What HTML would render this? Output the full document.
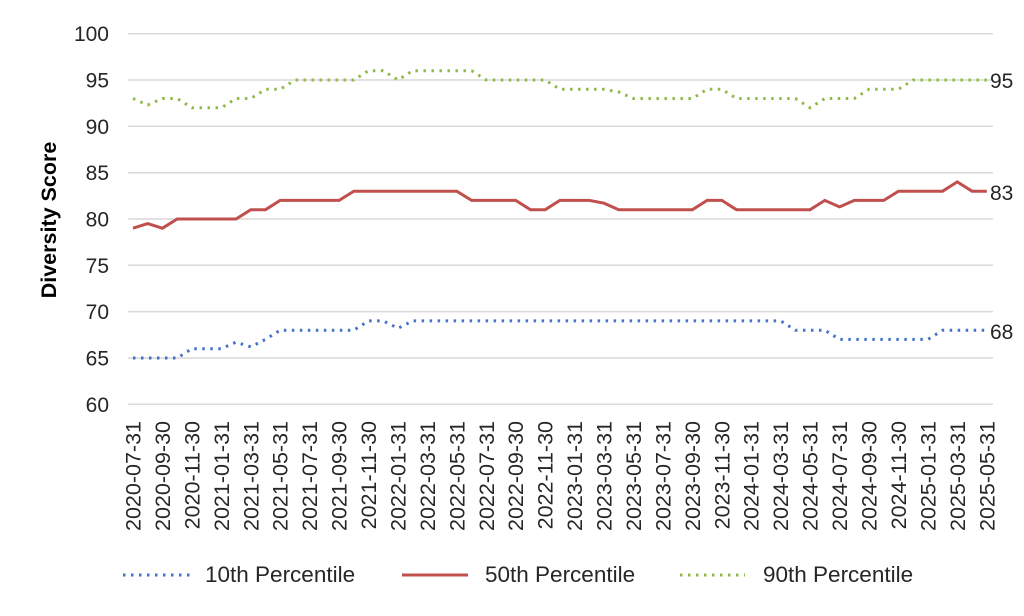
<!DOCTYPE html>
<html><head><meta charset="utf-8"><style>
body{margin:0;background:#fff}
svg{display:block;font-family:"Liberation Sans",Arial,sans-serif}
</style></head><body>
<svg id="c" width="1024" height="616" xmlns="http://www.w3.org/2000/svg"></svg>
<script>
const red=[79,79.5,79,80,80,80,80,80,81,81,82,82,82,82,82,83,83,83,83,83,83,83,83,82,82,82,82,81,81,82,82,82,81.7,81,81,81,81,81,81,82,82,81,81,81,81,81,81,82,81.3,82,82,82,83,83,83,83,84,83,83];
const grn=[93,92.3,93,93,92,92,92,93,93,94,94,95,95,95,95,95,96,96,95,96,96,96,96,96,95,95,95,95,95,94,94,94,94,93.7,93,93,93,93,93,94,94,93,93,93,93,93,92,93,93,93,94,94,94,95,95,95,95,95,95];
const blu=[65,65,65,65,66,66,66,66.7,66.2,67,68,68,68,68,68,68,69,69,68.2,69,69,69,69,69,69,69,69,69,69,69,69,69,69,69,69,69,69,69,69,69,69,69,69,69,69,68,68,68,67,67,67,67,67,67,67,68,68,68,68];
const X=i=>133+14.72*i, Y=v=>80+(95-v)*9.265;
const C='#262626';
let s='';
for(let v=60;v<=100;v+=5){const y=Y(v).toFixed(1);
 s+=`<line x1="128" x2="993" y1="${y}" y2="${y}" stroke="#d9d9d9" stroke-width="1.5"/>`;
 s+=`<text x="109" y="${(+y+7.5).toFixed(1)}" text-anchor="end" font-size="21" fill="${C}">${v}</text>`;}
const pts=a=>a.map((v,i)=>X(i).toFixed(1)+','+Y(v).toFixed(1)).join(' ');
s+=`<polyline points="${pts(blu)}" fill="none" stroke="#4472c4" stroke-width="3" stroke-dasharray="2.5 5.5"/>`;
s+=`<polyline points="${pts(grn)}" fill="none" stroke="#8fba4a" stroke-width="3" stroke-dasharray="2.5 5.5"/>`;
s+=`<polyline points="${pts(red)}" fill="none" stroke="#c0504d" stroke-width="3"/>`;
s+=`<text x="990" y="88" font-size="21" fill="${C}">95</text>`;
s+=`<text x="990" y="200" font-size="21" fill="${C}">83</text>`;
s+=`<text x="990" y="339" font-size="21" fill="${C}">68</text>`;
for(let i=0;i<59;i+=2){const d=new Date(2020,6+i+1,0);
 const lab=d.getFullYear()+'-'+String(d.getMonth()+1).padStart(2,'0')+'-'+String(d.getDate()).padStart(2,'0');
 const x=X(i)+7.5;
 s+=`<text transform="translate(${x.toFixed(1)},421) rotate(-90)" text-anchor="end" font-size="21.5" fill="${C}">${lab}</text>`;}
s+=`<text transform="translate(56,220) rotate(-90)" text-anchor="middle" font-size="21.5" font-weight="bold" fill="#000">Diversity Score</text>`;
s+=`<line x1="123" x2="190" y1="575" y2="575" stroke="#4472c4" stroke-width="3" stroke-dasharray="2.5 5.5"/><text x="205" y="582" font-size="22.5" fill="${C}">10th Percentile</text>`;
s+=`<line x1="402" x2="468" y1="575" y2="575" stroke="#c0504d" stroke-width="3"/><text x="485" y="582" font-size="22.5" fill="${C}">50th Percentile</text>`;
s+=`<line x1="680" x2="745" y1="575" y2="575" stroke="#8fba4a" stroke-width="3" stroke-dasharray="2.5 5.5"/><text x="763" y="582" font-size="22.5" fill="${C}">90th Percentile</text>`;
document.getElementById('c').innerHTML=s;
</script>
</body></html>
